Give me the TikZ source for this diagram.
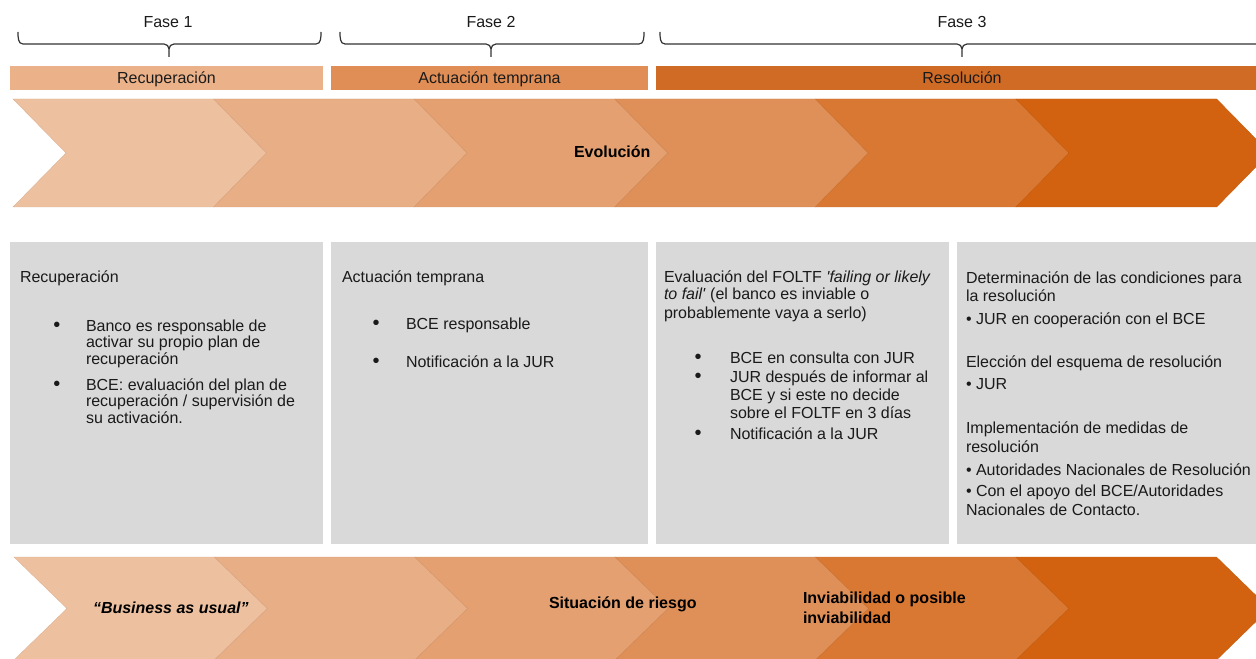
\documentclass[tikz,border=0pt]{standalone}
\usepackage{fontspec}
\setmainfont{Liberation Sans}[Ligatures=TeXOff]
\definecolor{ch1}{HTML}{EDC1A0}
\definecolor{ch2}{HTML}{E8AE86}
\definecolor{ch3}{HTML}{E4A070}
\definecolor{ch4}{HTML}{DF9058}
\definecolor{ch5}{HTML}{D97833}
\definecolor{ch6}{HTML}{D2620F}
\definecolor{barA}{HTML}{EBB28A}
\definecolor{barB}{HTML}{E08E55}
\definecolor{barC}{HTML}{D06B25}
\definecolor{boxgray}{HTML}{D9D9D9}
\definecolor{tx}{HTML}{1A1A1A}
\definecolor{brc}{HTML}{333333}
\newcommand\phbrace[3]{%
  \draw[bracestyle] (#1,32) to[out=-90,in=180] ({#1+5},44) -- ({#2-5},44) to[out=0,in=90] (#2,49) -- (#2,57);
  \draw[bracestyle] (#2,49) to[out=90,in=180] ({#2+5},44) -- ({#3-5},44) to[out=0,in=-90] (#3,32);}
\begin{document}
\begin{tikzpicture}[x=0.75pt,y=-0.75pt,
  every node/.style={inner sep=0pt,outer sep=0pt},
  txt/.style={anchor=base west,font=\fontsize{12}{14}\selectfont,text=tx},
  ctr/.style={anchor=base,font=\fontsize{12}{14}\selectfont,text=tx},
  bul/.style={anchor=base,font=\fontsize{15}{14}\selectfont,text=tx},
  btxt/.style={anchor=base west,font=\fontsize{12}{14}\selectfont\bfseries,text=black},
  bracestyle/.style={draw=brc,line width=0.9pt},
  infobox/.style={fill=boxgray}]
\useasboundingbox (0,0) rectangle (1256,659);

% phase headings and braces
\node[ctr] (f1) at (168,27.5) {Fase 1};
\node[ctr] (f2) at (491,27.5) {Fase 2};
\node[ctr] (f3) at (962,27.5) {Fase 3};
\phbrace{18}{169}{321}
\phbrace{340}{491}{644}
\phbrace{660}{962}{1264}

% phase bars
\fill[barA] (10,66) rectangle (323,90);
\fill[barB] (331,66) rectangle (648,90);
\fill[barC] (656,66) rectangle (1270,90);
\node[ctr] (p1) at (166.5,84) {Recuperación};
\node[ctr] (p2) at (489.5,84) {Actuación temprana};
\node[ctr] (p3) at (962,84) {Resolución};

% top chevrons
\foreach \i/\c in {0/ch1,1/ch2,2/ch3,3/ch4,4/ch5,5/ch6}{
  \pgfmathsetmacro{\xa}{13+200.6*\i}
  \filldraw[fill=\c,draw=\c!93!black,line width=0.3pt] (\xa,99) -- ++(200.6,0) -- ++(53,54) -- ++(-53,54) -- ++(-200.6,0) -- ++(53,-54) -- cycle;
}
\node[btxt] (evo) at (574,157.5) {Evolución};

% info boxes
\fill[infobox] (10,242) rectangle (323,544);
\fill[infobox] (331,242) rectangle (648,544);
\fill[infobox] (656,242) rectangle (949,544);
\fill[infobox] (957,242) rectangle (1270,544);

% box 1
\node[txt] (b1h) at (20,282) {Recuperación};
\node[bul] (b1u1) at (57,331) {•};
\node[txt] (b1a) at (86,331) {Banco es responsable de};
\node[txt] (b1b) at (86,347.5) {activar su propio plan de};
\node[txt] (b1c) at (86,364) {recuperación};
\node[bul] (b1u2) at (57,390) {•};
\node[txt] (b1e) at (86,390) {BCE: evaluación del plan de};
\node[txt] (b1f) at (86,406.5) {recuperación / supervisión de};
\node[txt] (b1g) at (86,423) {su activación.};

% box 2
\node[txt] (b2h) at (342,282) {Actuación temprana};
\node[bul] (b2u1) at (376,329) {•};
\node[txt] (b2a) at (406,329) {BCE responsable};
\node[bul] (b2u2) at (376,367) {•};
\node[txt] (b2b) at (406,367) {Notificación a la JUR};

% box 3
\node[txt] (b3h) at (664,282) {Evaluación del FOLTF \textit{'failing or likely}};
\node[txt] (b3i) at (664,300) {\textit{to fail'} (el banco es inviable o};
\node[txt] (b3j) at (664,318) {probablemente vaya a serlo)};
\node[bul] (b3u1) at (698,363.5) {•};
\node[txt] (b3a) at (730,363.5) {BCE en consulta con JUR};
\node[bul] (b3u2) at (698,382) {•};
\node[txt] (b3b) at (730,382) {JUR después de informar al};
\node[txt] (b3c) at (730,400) {BCE y si este no decide};
\node[txt] (b3d) at (730,418) {sobre el FOLTF en 3 días};
\node[bul] (b3u3) at (698,439) {•};
\node[txt] (b3e) at (730,439) {Notificación a la JUR};

% box 4
\node[txt] (b4a) at (966,283) {Determinación de las condiciones para};
\node[txt] (b4b) at (966,301) {la resolución};
\node[txt] (b4c) at (966,324) {• JUR en cooperación con el BCE};
\node[txt] (b4d) at (966,367) {Elección del esquema de resolución};
\node[txt] (b4e) at (966,389) {• JUR};
\node[txt] (b4f) at (966,433) {Implementación de medidas de};
\node[txt] (b4g) at (966,452) {resolución};
\node[txt] (b4h) at (966,475) {• Autoridades Nacionales de Resolución};
\node[txt] (b4i) at (966,496) {• Con el apoyo del BCE/Autoridades};
\node[txt] (b4j) at (966,515) {Nacionales de Contacto.};

% bottom chevrons
\foreach \i/\c in {0/ch1,1/ch2,2/ch3,3/ch4,4/ch5,5/ch6}{
  \pgfmathsetmacro{\xa}{14+200.4*\i}
  \filldraw[fill=\c,draw=\c!93!black,line width=0.3pt] (\xa,557) -- ++(200.4,0) -- ++(53,51.5) -- ++(-53,51.5) -- ++(-200.4,0) -- ++(53,-51.5) -- cycle;
}
\node[btxt] (l1) at (93,613) {\textit{“Business as usual”}};
\node[btxt] (l2) at (549,608) {Situación de riesgo};
\node[btxt] (l3) at (803,603) {Inviabilidad o posible};
\node[btxt] (l4) at (803,623) {inviabilidad};
\end{tikzpicture}
\end{document}
